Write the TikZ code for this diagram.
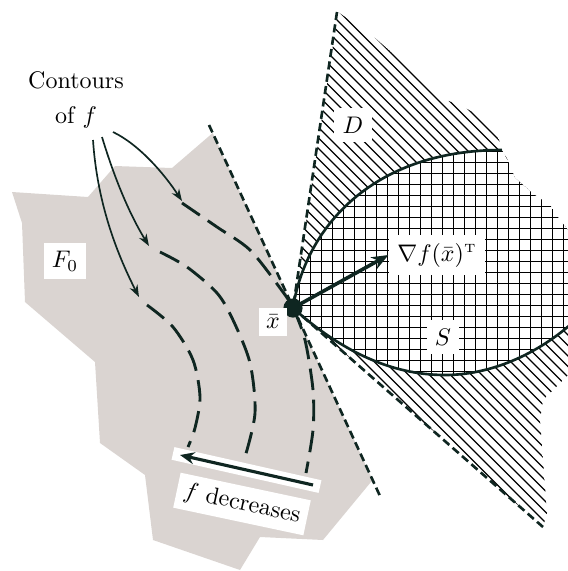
\documentclass[tikz,border=0pt]{standalone}
\usetikzlibrary{arrows.meta,calc}
\definecolor{ink}{RGB}{15,38,33}
\definecolor{fzero}{RGB}{218,212,209}
\begin{document}
\begin{tikzpicture}[x=0.4167pt,y=-0.4167pt,
  lbl/.style={fill=white, inner sep=3.5pt},
  gline/.style={ink, line width=1.1pt, dash pattern=on 3.4pt off 1.8pt},
  contour/.style={ink, line width=1.2pt, dash pattern=on 9pt off 4pt},
  bound/.style={ink, line width=1.1pt},
  carrow/.style={ink, line width=0.7pt, -{Stealth[length=5pt,width=3.6pt]}},
  hatch/.style={black, line width=0.55pt},
  gridln/.style={black, line width=0.75pt},
  dot/.style={circle, fill=ink, inner sep=0pt, minimum size=8pt}]
\useasboundingbox (0,0) rectangle (568,571);
% feasible region F0
\fill[fzero] (12,192) -- (22,223) -- (25,302) -- (95,362) -- (100,443) -- (145,475) -- (153,540) -- (240,570) -- (260,537) -- (323,540) -- (372.6,480) -- (212.7,133) -- (172,168) -- (115,166) -- (88,197) -- cycle;
\coordinate (xbar) at (293,308);
% cone D hatching
\begin{scope}
\clip (338,12) -- (375,38) -- (398,58) -- (420,80) -- (440,98) -- (460,105) -- (478,115) -- (497,135) -- (503,150) -- (510,165) -- (515,178) -- (535,195) -- (550,205) -- (560,220) -- (568,230) -- (568,375) -- (553,390) -- (543,400) -- (540,420) -- (543,460) -- (547,513) -- (543,527) -- (xbar) -- cycle;
\foreach \k in {-250,-239.5,...,600} \draw[hatch] (\k,0) -- (\k+600,600);
\end{scope}
% set S
\begin{scope}
\path[fill=white] (xbar) .. controls (305,230) and (370,150) .. (502,150) -- (510,165) -- (515,178) -- (535,195) -- (550,205) -- (560,220) -- (568,230) -- (570,325) .. controls (535,355) and (490,375) .. (445,375) .. controls (390,375) and (340,350) .. (xbar) -- cycle;
\clip (xbar) .. controls (305,230) and (370,150) .. (502,150) -- (510,165) -- (515,178) -- (535,195) -- (550,205) -- (560,220) -- (568,230) -- (570,325) .. controls (535,355) and (490,375) .. (445,375) .. controls (390,375) and (340,350) .. (xbar) -- cycle;
\foreach \g in {288.5,299.5,...,580} \draw[gridln] (\g,100) -- (\g,400);
\foreach \g in {140.5,151.5,...,400} \draw[gridln] (280,\g) -- (580,\g);
\end{scope}
% dashed lines
\coordinate (la) at (209,125);
\coordinate (lb) at (380,496);
\coordinate (da) at (337,12);
\coordinate (db) at (543,527);
\draw[gline] (la) -- (lb);
\draw[gline] (da) -- (xbar);
\draw[gline] (xbar) -- (db);
% contours
\draw[contour] plot[smooth] coordinates {(182,203) (217,227) (250,250) (280,288) (293,308) (305,340) (313,390) (313,430) (306,473)};
\draw[contour] plot[smooth] coordinates {(160,252) (187,267) (217,293) (233,320) (250,363) (255,413) (245,457)};
\draw[contour] plot[smooth] coordinates {(147,305) (173,327) (193,360) (200,397) (195,428) (188,447)};
% boundary of S
\coordinate (su) at (502,150);
\coordinate (sl) at (570,325);
\draw[bound] (xbar) .. controls (305,230) and (370,150) .. (su);
\draw[bound] (xbar) .. controls (340,350) and (390,375) .. (445,375) .. controls (490,375) and (535,355) .. (sl);
% labels
\node[lbl] (grad) at (437,255) {$\nabla f(\bar x)^{\scriptscriptstyle\mathrm{T}}$};
\draw[ink, line width=1.5pt, -{Stealth[length=7pt,width=5.5pt]}] (xbar) -- (grad.west);
\node[dot] (pt) at (xbar) {};
\node[lbl] (S) at (443,337) {$S$};
\node[lbl] (D) at (353,125) {$D$};
\node[lbl] (F0) at (65,261) {$F_0$};
\node[lbl, inner sep=3pt] (xl) at (273,322) {$\bar x$};
\node[align=center, inner sep=1pt] (ct) at (76,100) {Contours\\[2.5pt] of $f$};
\coordinate (a1s) at (93,140);  \coordinate (a1e) at (139,297);
\coordinate (a2s) at (102,137); \coordinate (a2e) at (149,246);
\coordinate (a3s) at (113,132); \coordinate (a3e) at (182,201);
\draw[carrow] (a1s) .. controls (97,200) and (115,250) .. (a1e);
\draw[carrow] (a2s) .. controls (115,180) and (130,215) .. (a2e);
\draw[carrow] (a3s) .. controls (140,145) and (165,175) .. (a3e);
% f decreases
\coordinate (fa) at (313,485);
\coordinate (fb) at (180,455);
\draw[white, line width=5.4pt] ($(fa)!-3pt!(fb)$) -- ($(fb)!-3pt!(fa)$);
\draw[ink, line width=1.3pt, -{Stealth[length=6pt,width=5pt]}] (fa) -- (fb);
\node[lbl, rotate=-12, inner sep=3pt] (fd) at (242,504) {$f$ decreases};
\end{tikzpicture}
\end{document}
